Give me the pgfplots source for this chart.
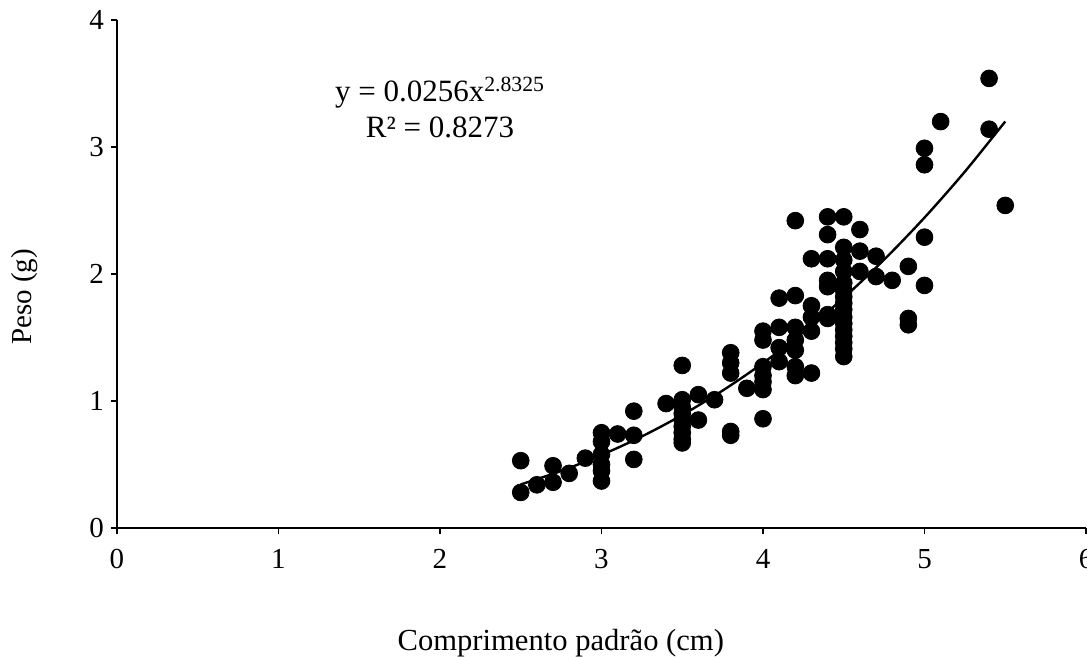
\documentclass[border=0pt]{standalone}
\usepackage{fontspec}
\setmainfont{Liberation Serif}
\usepackage{pgfplots}
\pgfplotsset{compat=1.18}
\begin{document}
\begin{tikzpicture}
\begin{axis}[
  scale only axis,
  width=484.5pt, height=254pt,
  xmin=0, xmax=6, ymin=0, ymax=4,
  xtick={0,1,2,3,4,5,6}, ytick={0,1,2,3,4},
  axis lines=left,
  axis line style={-, line width=1pt},
  tick style={line width=0.8pt, black},
  tick align=outside,
  major tick length=3pt,
  /pgf/number format/assume math mode=true,
  tick label style={font=\fontsize{14.5}{17}\selectfont},
  xticklabel style={yshift=-4pt},
  every axis x label/.style={at={(axis description cs:0.458,-0.226)},anchor=center,font=\fontsize{15.3}{18}\selectfont},
  every axis y label/.style={at={(axis description cs:-0.095,0.455)},anchor=center,rotate=90,font=\fontsize{14.5}{17}\selectfont},
  xlabel={Comprimento padrão (cm)},
  ylabel={Peso (g)},
  clip=false,
]
\addplot[only marks, mark=*, mark size=4.2pt, black] coordinates {
(2.5,0.53)(2.5,0.28)(2.6,0.34)(2.7,0.49)(2.7,0.36)(2.8,0.43)(2.9,0.55)
(3.0,0.75)(3.0,0.68)(3.0,0.58)(3.0,0.50)(3.0,0.45)(3.0,0.37)
(3.1,0.74)(3.2,0.92)(3.2,0.73)(3.2,0.54)
(3.4,0.98)(3.5,1.28)(3.5,1.01)(3.5,0.95)(3.5,0.90)(3.5,0.85)(3.5,0.80)(3.5,0.75)(3.5,0.70)(3.5,0.67)
(3.6,1.05)(3.6,0.85)(3.7,1.01)
(3.8,1.38)(3.8,1.30)(3.8,1.22)(3.8,0.76)(3.8,0.73)
(3.9,1.10)
(4.0,1.55)(4.0,1.48)(4.0,1.27)(4.0,1.20)(4.0,1.15)(4.0,1.09)(4.0,0.86)
(4.1,1.81)(4.1,1.58)(4.1,1.42)(4.1,1.31)
(4.2,2.42)(4.2,1.83)(4.2,1.58)(4.2,1.48)(4.2,1.40)(4.2,1.27)(4.2,1.20)
(4.3,2.12)(4.3,1.75)(4.3,1.66)(4.3,1.55)(4.3,1.22)
(4.4,2.45)(4.4,2.31)(4.4,2.12)(4.4,1.95)(4.4,1.90)(4.4,1.68)(4.4,1.65)
(4.5,2.45)(4.5,2.21)(4.5,2.11)(4.5,2.02)(4.5,1.93)(4.5,1.87)(4.5,1.82)(4.5,1.77)(4.5,1.72)(4.5,1.66)(4.5,1.61)(4.5,1.56)(4.5,1.51)(4.5,1.46)(4.5,1.41)(4.5,1.35)
(4.6,2.35)(4.6,2.18)(4.6,2.02)
(4.7,2.14)(4.7,1.98)(4.8,1.95)
(4.9,2.06)(4.9,1.65)(4.9,1.60)
(5.0,2.99)(5.0,2.86)(5.0,2.29)(5.0,1.91)
(5.1,3.20)(5.4,3.54)(5.4,3.14)(5.5,2.54)
};
\addplot[black, line width=1.2pt, smooth] coordinates {
(2.5,0.343)(2.75,0.449)(3.0,0.575)(3.25,0.721)(3.5,0.890)(3.75,1.082)(4.0,1.299)(4.25,1.542)(4.5,1.813)(4.75,2.113)(5.0,2.444)(5.25,2.806)(5.5,3.201)
};
\node[align=center, font=\fontsize{15.5}{18}\selectfont] at (axis cs:2.0,3.31) {y = 0.0256x\textsuperscript{2.8325}\\R² = 0.8273};
\end{axis}
\pgfresetboundingbox
\path (current axis.south west) ++(-58.5pt,-64.5pt) coordinate (bbll);
\path (current axis.north east) ++(0.5pt,10pt) coordinate (bbur);
\useasboundingbox (bbll) rectangle (bbur);
\end{tikzpicture}
\end{document}
